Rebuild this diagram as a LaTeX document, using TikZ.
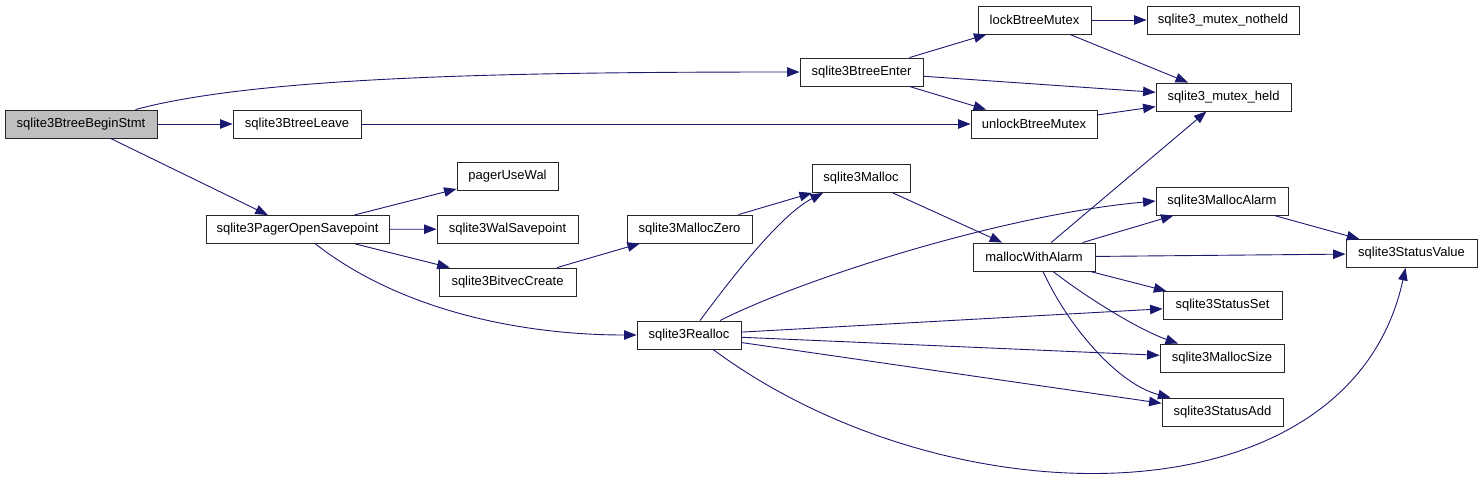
\documentclass[tikz,border=0pt]{standalone}
\usepackage{fontspec}
\setmainfont{Liberation Sans}
\usetikzlibrary{arrows.meta}
\definecolor{edgeblue}{RGB}{25,25,112}

\begin{document}
\begin{tikzpicture}[
            x=1pt, y=-1pt,
            fn/.style={draw=black!85, line width=0.9pt, minimum height=28pt, inner sep=0pt, fill=white, font=\fontsize{13}{15}\selectfont},
            cur/.style={fn, fill=black!25},
            arrow/.style={-{Triangle[length=12.5pt, width=9.5pt]}, draw=edgeblue, line width=0.9pt}
        ]
            \useasboundingbox (0,0) rectangle (1483,485);
            \node[cur, minimum width=152pt] (begin) at (81,124) {sqlite3BtreeBeginStmt};
\node[fn, minimum width=128pt] (leave) at (297,124) {sqlite3BtreeLeave};
            \node[fn, minimum width=183pt] (pager) at (297.5,229.5) {sqlite3PagerOpenSavepoint};
            \node[fn, minimum width=123pt] (enter) at (861.5,72) {sqlite3BtreeEnter};
\node[fn, minimum width=113pt] (lock) at (1034.5,20) {lockBtreeMutex};
            \node[fn, minimum width=152pt] (notheld) at (1223,20) {sqlite3\_mutex\_notheld};
            \node[fn, minimum width=135pt] (held) at (1223.5,97) {sqlite3\_mutex\_held};
            \node[fn, minimum width=126pt] (unlock) at (1034,124) {unlockBtreeMutex};
\node[fn, minimum width=101pt] (usewal) at (507.5,176) {pagerUseWal};
            \node[fn, minimum width=141pt] (walsp) at (507.5,229) {sqlite3WalSavepoint};
            \node[fn, minimum width=137pt] (bitvec) at (507.5,282) {sqlite3BitvecCreate};
            \node[fn, minimum width=125pt] (mzero) at (689.5,229) {sqlite3MallocZero};
\node[fn, minimum width=98pt] (malloc) at (861,178.5) {sqlite3Malloc};
            \node[fn, minimum width=104pt] (realloc) at (689,335) {sqlite3Realloc};
            \node[fn, minimum width=122pt] (mwa) at (1034,257) {mallocWithAlarm};
            \node[fn, minimum width=132pt] (malarm) at (1222,201) {sqlite3MallocAlarm};
\node[fn, minimum width=131pt] (svalue) at (1411.5,253.5) {sqlite3StatusValue};
            \node[fn, minimum width=119pt] (sset) at (1222.5,305.5) {sqlite3StatusSet};
            \node[fn, minimum width=124pt] (msize) at (1222,358) {sqlite3MallocSize};
            \node[fn, minimum width=121pt] (sadd) at (1222.5,412) {sqlite3StatusAdd};
            % calls out of sqlite3BtreeBeginStmt
            \draw[arrow] ([xshift=-22pt]begin.north east) .. controls (260,76) and (520,72) .. (enter.west);
            \draw[arrow] (begin) -- (leave);
\draw[arrow] (begin) -- (pager);
            \draw[arrow] (enter) -- (lock);
            \draw[arrow] (enter) -- (held);
            \draw[arrow] (enter) -- (unlock);
\draw[arrow] (lock) -- (notheld);
            \draw[arrow] (lock) -- (held);
            \draw[arrow] (unlock) -- (held);
            \draw[arrow] (leave) -- (unlock);
            % pager side
\draw[arrow] (pager) -- (usewal);
            \draw[arrow] (pager) -- (walsp);
            \draw[arrow] (pager) -- (bitvec);
            \draw[arrow] ([xshift=18pt]pager.south) .. controls (400,310) and (520,335) .. (realloc.west);
\draw[arrow] (bitvec) -- (mzero);
            \draw[arrow] (mzero) -- (malloc);
            \draw[arrow] (malloc) -- (mwa);
            % realloc
            \draw[arrow] ([xshift=11pt]realloc.north) .. controls (730,280) and (780,215) .. ([xshift=-38pt]malloc.south);
\draw[arrow] ([xshift=31pt]realloc.north) .. controls (800,280) and (1000,215) .. (malarm.west);
            \draw[arrow] (realloc) -- (sset);
            \draw[arrow] (realloc) -- (msize);
            \draw[arrow] (realloc) -- (sadd);
            \draw[arrow] ([xshift=24pt]realloc.south) .. controls (950,525) and (1350,525) .. ([xshift=-6pt]svalue.south);
            % mallocWithAlarm
\draw[arrow] (mwa) -- (held);
            \draw[arrow] (mwa) -- (malarm);
            \draw[arrow] (mwa) -- (svalue);
            \draw[arrow] (mwa) -- (sset);
            \draw[arrow] ([xshift=19pt]mwa.south) .. controls (1090,300) and (1140,330) .. ([xshift=-44pt]msize.north);
            \draw[arrow] ([xshift=9pt]mwa.south) .. controls (1070,330) and (1120,385) .. ([xshift=-52pt]sadd.north);
\draw[arrow] (malarm) -- (svalue);
        \end{tikzpicture}
\end{document}
